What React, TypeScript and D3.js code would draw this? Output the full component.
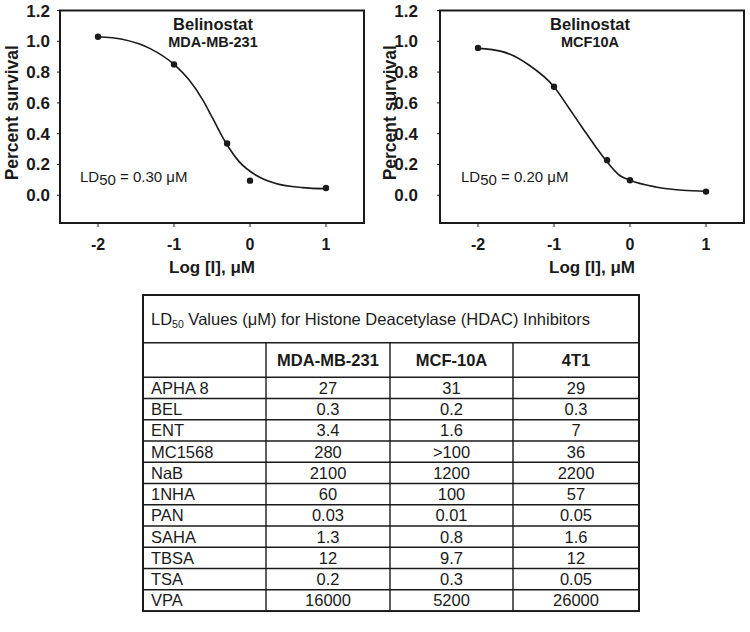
import React from "react";
import * as d3 from "d3";

// ---------- chart data ----------
const logConc = [-2, -1, -0.301, 0, 1];
const survivalMDA = [1.03, 0.85, 0.336, 0.095, 0.047];
const survivalMCF = [0.957, 0.705, 0.228, 0.098, 0.024];

// fitted curves
const curveXMDA = [-2, -1.68, -1.32, -1, -0.8, -0.62, -0.49, -0.32, -0.14, 0.08, 0.34, 0.69, 1];
const curveYMDA = [1.03, 1.013, 0.954, 0.85, 0.748, 0.618, 0.499, 0.343, 0.217, 0.13, 0.076, 0.05, 0.043];
const curveXMCF = [-2, -1.68, -1.33, -1, -0.8, -0.62, -0.45, -0.32, -0.14, 0, 0.34, 0.69, 1];
const curveYMCF = [0.954, 0.933, 0.846, 0.705, 0.564, 0.434, 0.314, 0.228, 0.13, 0.098, 0.054, 0.033, 0.026];

const xTicks = [-2, -1, 0, 1];
const yTicks = [0, 0.2, 0.4, 0.6, 0.8, 1.0, 1.2];

// ---------- table data ----------
const tableTitle = " Values (μM) for Histone Deacetylase (HDAC) Inhibitors";
const columns = ["MDA-MB-231", "MCF-10A", "4T1"];
const inhibitors = ["APHA 8", "BEL", "ENT", "MC1568", "NaB", "1NHA", "PAN", "SAHA", "TBSA", "TSA", "VPA"];
const ldMDA = ["27", "0.3", "3.4", "280", "2100", "60", "0.03", "1.3", "12", "0.2", "16000"];
const ldMCF = ["31", "0.2", "1.6", ">100", "1200", "100", "0.01", "0.8", "9.7", "0.3", "5200"];
const ld4T1 = ["29", "0.3", "7", "36", "2200", "57", "0.05", "1.6", "12", "0.05", "26000"];

const FONT = "'Liberation Sans', Arial, Helvetica, sans-serif";
const INK = "#1a1a1a";

type PanelProps = {
  left: number;
  right: number;
  labelX: number;
  titleX: number;
  yTitleX: number;
  ldX: number;
  line1: string;
  line2: string;
  ld: string;
  pts: number[];
  cx: number[];
  cy: number[];
};

function Panel(p: PanelProps) {
  const x = d3.scaleLinear().domain([-2.5, 1.5]).range([p.left, p.right]);
  const y = d3.scaleLinear().domain([-0.18, 1.2]).range([223, 10.5]);
  const line = d3
    .line<number>()
    .x((_, i) => x(p.cx[i]))
    .y((d) => y(d))
    .curve(d3.curveMonotoneX);
  const fmt = d3.format(".1f");
  const [y0, y1] = y.range();
  return (
    <g fontFamily={FONT} fill={INK}>
      <rect x={p.left} y={y1} width={p.right - p.left} height={y0 - y1} fill="none" stroke={INK} strokeWidth={2} />
      {xTicks.map((t) => (
        <g key={t}>
          <line x1={x(t)} x2={x(t)} y1={y0} y2={y0 + 4} stroke={INK} strokeWidth={1} />
          <text x={x(t)} y={y0 + 27} textAnchor="middle" fontSize={16} fontWeight="bold">
            {t}
          </text>
        </g>
      ))}
      {yTicks.map((t) => (
        <g key={t}>
          <line x1={p.left - 3} x2={p.left} y1={y(t)} y2={y(t)} stroke={INK} strokeWidth={1} />
          <text x={p.labelX} y={y(t) + 6} textAnchor="end" fontSize={17} fontWeight="bold">
            {fmt(t)}
          </text>
        </g>
      ))}
      <text
        transform={`translate(${p.yTitleX},${(y0 + y1) / 2 - 4}) rotate(-90)`}
        textAnchor="middle"
        fontSize={17.5}
        fontWeight="bold"
      >
        Percent survival
      </text>
      <text x={(p.left + p.right) / 2} y={273} textAnchor="middle" fontSize={17} fontWeight="bold">
        Log [I], μM
      </text>
      <text x={p.titleX} y={30} textAnchor="middle" fontSize={16.5} fontWeight="bold">
        {p.line1}
      </text>
      <text x={p.titleX} y={47} textAnchor="middle" fontSize={14.5} fontWeight="bold">
        {p.line2}
      </text>
      <text x={p.ldX} y={182} fontSize={15}>
        LD<tspan dy={3}>50</tspan>
        <tspan dy={-3}>{" = " + p.ld + " μM"}</tspan>
      </text>
      <path d={line(p.cy) || ""} fill="none" stroke={INK} strokeWidth={1.6} />
      {p.pts.map((v, i) => (
        <circle key={i} cx={x(logConc[i])} cy={y(v)} r={3.2} fill={INK} />
      ))}
    </g>
  );
}

function Table() {
  const colEdges = [143, 266, 390, 513, 639];
  const top = 295;
  const titleBottom = 342.7;
  const headBottom = 377.3;
  const rowH = 21.25;
  const rows = d3.range(inhibitors.length);
  const rowY = d3.scaleLinear().domain([0, inhibitors.length]).range([headBottom, headBottom + rowH * inhibitors.length]);
  const bottom = rowY(inhibitors.length);
  const cols = [ldMDA, ldMCF, ld4T1];
  const fs = 16.5;
  return (
    <g fontFamily={FONT} fill={INK}>
      <line x1={colEdges[0]} x2={colEdges[4]} y1={titleBottom} y2={titleBottom} stroke={INK} strokeWidth={1.6} />
      {rows.map((r) => (
        <line key={r} x1={colEdges[0]} x2={colEdges[4]} y1={rowY(r)} y2={rowY(r)} stroke={INK} strokeWidth={1.4} />
      ))}
      {colEdges.slice(1, 4).map((cx) => (
        <line key={cx} x1={cx} x2={cx} y1={titleBottom} y2={bottom} stroke={INK} strokeWidth={1.4} />
      ))}
      <rect x={colEdges[0]} y={top} width={colEdges[4] - colEdges[0]} height={bottom - top} fill="none" stroke={INK} strokeWidth={2} />
      <text x={151} y={(top + titleBottom) / 2 + 6} fontSize={fs}>
        LD<tspan fontSize={10.5} dy={3}>50</tspan>
        <tspan dy={-3}>{tableTitle}</tspan>
      </text>
      {columns.map((c, i) => (
        <text
          key={c}
          x={(colEdges[i + 1] + colEdges[i + 2]) / 2}
          y={(titleBottom + headBottom) / 2 + 6}
          textAnchor="middle"
          fontSize={fs}
          fontWeight="bold"
        >
          {c}
        </text>
      ))}
      {rows.map((r) => (
        <g key={r}>
          <text x={151} y={rowY(r) + rowH / 2 + 6} fontSize={fs}>
            {inhibitors[r]}
          </text>
          {cols.map((col, ci) => (
            <text
              key={ci}
              x={(colEdges[ci + 1] + colEdges[ci + 2]) / 2}
              y={rowY(r) + rowH / 2 + 6}
              textAnchor="middle"
              fontSize={fs}
            >
              {col[r]}
            </text>
          ))}
        </g>
      ))}
    </g>
  );
}

export default function App() {
  return (
    <svg
      width={750}
      height={632}
      viewBox="0 0 750 632"
      style={{ position: "absolute", left: 0, top: 0, background: "#fff" }}
    >
      <rect width={750} height={632} fill="#fff" />
      <Panel
        left={60}
        right={364}
        labelX={50}
        titleX={213}
        yTitleX={18}
        ldX={80}
        line1="Belinostat"
        line2="MDA-MB-231"
        ld="0.30"
        pts={survivalMDA}
        cx={curveXMDA}
        cy={curveYMDA}
      />
      <Panel
        left={440}
        right={744}
        labelX={418}
        titleX={590}
        yTitleX={396}
        ldX={461}
        line1="Belinostat"
        line2="MCF10A"
        ld="0.20"
        pts={survivalMCF}
        cx={curveXMCF}
        cy={curveYMCF}
      />
      <Table />
    </svg>
  );
}
